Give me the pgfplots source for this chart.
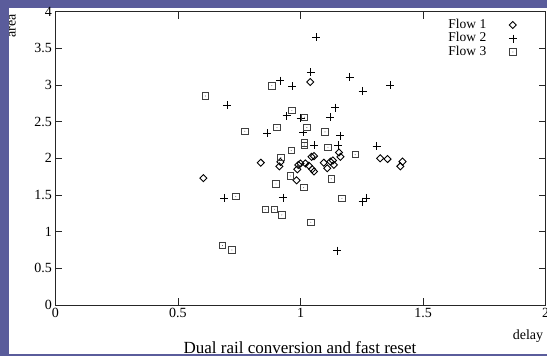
\documentclass[border=0pt]{standalone}
\usepackage{pgfplots}
\pgfplotsset{compat=1.18}
\usepackage{fontspec}
\setmainfont{Liberation Serif}
\definecolor{slidebg}{RGB}{90,92,155}
\pgfdeclareplotmark{boxdot}{%
  \pgfpathrectangle{\pgfqpoint{-\pgfplotmarksize}{-\pgfplotmarksize}}{\pgfqpoint{2\pgfplotmarksize}{2\pgfplotmarksize}}%
  \pgfusepathqstroke
  \pgfpathcircle{\pgfpointorigin}{0.45pt}%
  \pgfusepathqfill}
\begin{document}
\begin{tikzpicture}[x=1pt,y=1pt]
\useasboundingbox (0,0) rectangle (547,356);
\clip (0,0) rectangle (547,356);
\fill[slidebg] (0,0) rectangle (547,356);
\fill[white] (9,2) rectangle (547,348);
\begin{axis}[
  at={(55.3pt,51pt)}, anchor=south west,
  scale only axis, width=490.4pt, height=293.4pt,
  xmin=0, xmax=2, ymin=0, ymax=4,
  xtick={0,0.5,1,1.5,2}, ytick={0,0.5,1,1.5,2,2.5,3,3.5,4},
  xtick pos=both, ytick pos=both,
  tick align=inside, major tick length=7pt,
  axis line style={line width=0.7pt, black!85},
  every tick/.style={line width=0.7pt, black!85},
  /pgf/number format/assume math mode=true,
  ticklabel style={font=\fontsize{14}{14}\selectfont},
  xlabel={delay}, ylabel={area},
  xlabel style={at={(axis description cs:0.964,-0.1057)}, anchor=center, font=\fontsize{14}{14}\selectfont},
  ylabel style={at={(axis description cs:-0.0873,0.952)}, anchor=center, font=\fontsize{14}{14}\selectfont},
  legend plot pos=right,
  legend image code/.code={\draw[#1] plot coordinates {(0pt,0pt)};},
  legend style={draw=none, fill=none, at={(axis description cs:0.9415,0.978)}, anchor=north east,
    inner sep=0pt, column sep=22pt, row sep=0pt,
    font=\fontsize{13.5}{13.5}\selectfont,
    nodes={inner sep=0.5pt, text height=9.5pt, text depth=3pt}},
  legend cell align=right,
]
\addplot[only marks, mark=square, mark size=2.5pt, mark options={rotate=45, line width=0.9pt, black}] coordinates {
(0.604,1.73) (0.838,1.94) (0.918,1.95) (0.914,1.89) (0.984,1.70) (0.991,1.91)
(0.987,1.85) (1.00,1.93) (1.02,1.93) (1.034,1.90) (1.045,2.02) (1.055,2.03)
(1.048,1.85) (1.055,1.82) (1.04,3.04) (1.095,1.94) (1.109,1.865) (1.122,1.955)
(1.132,1.97) (1.136,1.91) (1.157,2.08) (1.163,2.02) (1.325,2.0) (1.355,1.99)
(1.407,1.89) (1.416,1.955)
};
\addlegendentry{Flow 1}
\addplot[only marks, mark=+, mark size=4pt, mark options={line width=0.6pt, black}] coordinates {
(0.70,2.72) (0.865,2.34) (0.917,3.06) (0.967,2.98) (1.065,3.65) (1.042,3.17)
(1.20,3.11) (1.253,2.92) (1.366,3.0) (1.142,2.69) (1.121,2.56) (0.943,2.58)
(1.0,2.55) (1.012,2.36) (1.163,2.31) (1.055,2.18) (1.154,2.18) (1.31,2.17)
(0.689,1.46) (0.928,1.465) (1.268,1.46) (1.253,1.41) (1.149,0.74)
};
\addlegendentry{Flow 2}
\addplot[only marks, mark=boxdot, mark size=3.2pt, mark options={line width=0.7pt, black!75}] coordinates {
(0.612,2.85) (0.773,2.37) (0.883,2.99) (0.904,2.42) (0.965,2.65) (1.016,2.56)
(1.026,2.42) (1.10,2.36) (1.015,2.18) (1.015,2.21) (1.112,2.15) (0.962,2.105)
(1.223,2.05) (0.92,2.01) (0.958,1.76) (1.125,1.72) (0.90,1.65) (1.013,1.60)
(0.736,1.48) (0.856,1.305) (0.894,1.305) (0.924,1.228) (0.682,0.81) (0.72,0.75)
(1.042,1.128) (1.169,1.455)
};
\addlegendentry{Flow 3}
\end{axis}
\node[anchor=base, font=\fontsize{17}{17}\selectfont, inner sep=0pt] at (300,2.5) {Dual rail conversion and fast reset};
\end{tikzpicture}
\end{document}
